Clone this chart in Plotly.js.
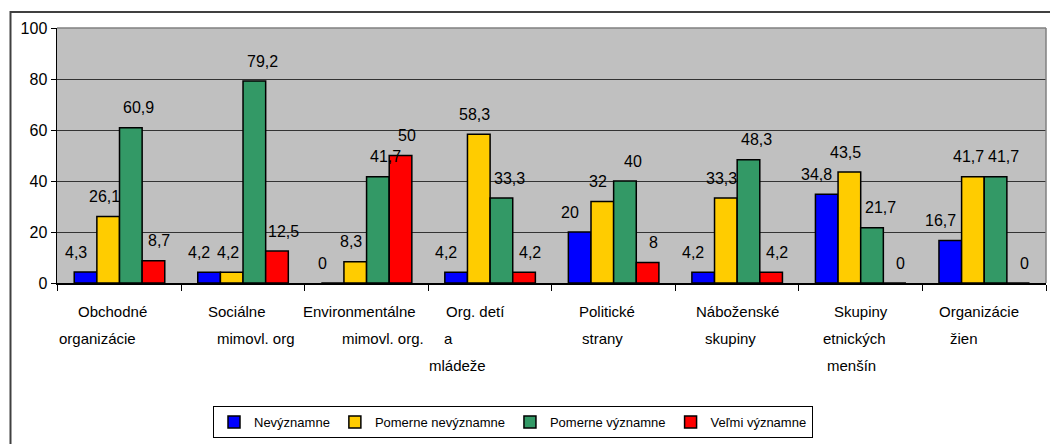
<!DOCTYPE html>
<html><head><meta charset="utf-8">
<script src="https://cdn.plot.ly/plotly-3.0.1.min.js"></script>
<style>html,body{margin:0;padding:0;background:#fff}#chart{width:1050px;height:444px}</style>
</head><body><div id="chart"></div>
<script>
// ---- data ----
const categories = ["Obchodné organizácie", "Sociálne mimovl. org", "Environmentálne mimovl. org.", "Org. detí a mládeže", "Politické strany", "Náboženské skupiny", "Skupiny etnických menšín", "Organizácie žien"];
const tickLines = [["Obchodné","organizácie"], ["Sociálne","mimovl. org"], ["Environmentálne","mimovl. org."], ["Org. detí","a","mládeže"], ["Politické","strany"], ["Náboženské","skupiny"], ["Skupiny","etnických","menšín"], ["Organizácie","žien"]];
const seriesNames = ["Nevýznamne", "Pomerne nevýznamne", "Pomerne významne", "Veľmi významne"];
const nevyznamne        = [4.3, 4.2, 0, 4.2, 20, 4.2, 34.8, 16.7];
const pomerneNevyznamne = [26.1, 4.2, 8.3, 58.3, 32, 33.3, 43.5, 41.7];
const pomerneVyznamne   = [60.9, 79.2, 41.7, 33.3, 40, 48.3, 21.7, 41.7];
const velmiVyznamne     = [8.7, 12.5, 50, 4.2, 8, 4.2, 0, 0];
const yTicks = [0, 20, 40, 60, 80, 100];

// ---- styles ----
const colors = ["#0000FF", "#FFCC00", "#339966", "#FF0000"];
const W = 1050, H = 444;
const M = {l: 57, r: 4, t: 28, b: 161};
const plotW = W - M.l - M.r, plotH = H - M.t - M.b;
const bargap = 0.267;
const font = "Arial, 'Liberation Sans', sans-serif";
const labelDx = [-10, -4, 8, 6];          // per-series label nudge (px)
const labelDy = 20;
const lineDx = [[-7,-22],[-6,13],[-7,16],[-15,-42,-33],[-7,-11],[0,-7],[0,-6,-9],[-5,-20]];
const lineY0 = 28, lineStep = 27;

const seriesValues = [nevyznamne, pomerneNevyznamne, pomerneVyznamne, velmiVyznamne];
const traces = seriesValues.map((vals, s) => ({
  type: "bar",
  name: seriesNames[s],
  x: categories,
  y: vals,
  marker: {color: colors[s], line: {color: "#000", width: 1.5}},
  hoverinfo: "skip"
}));

const catW = plotW / categories.length;
const barW = catW * (1 - bargap) / seriesValues.length;
const fmt = v => String(v).replace(".", ",");

const annotations = [];
seriesValues.forEach((vals, s) => {
  vals.forEach((v, c) => {
    annotations.push({
      x: categories[c], xref: "x", y: v, yref: "y",
      text: fmt(v), showarrow: false,
      xshift: (s - (seriesValues.length - 1) / 2) * barW + labelDx[s],
      yshift: labelDy, yanchor: "middle", xanchor: "center",
      font: {family: font, size: 16, color: "#000"}
    });
  });
});
tickLines.forEach((lines, c) => {
  lines.forEach((t, k) => {
    annotations.push({
      x: categories[c], xref: "x", y: 0, yref: "paper",
      text: t, showarrow: false,
      xshift: lineDx[c][k], yshift: -(lineY0 + k * lineStep),
      yanchor: "middle", xanchor: "center",
      font: {family: font, size: 15, color: "#000"}
    });
  });
});

const px2x = p => (p - M.l) / plotW;
const py2y = p => (H - M.b - p) / plotH;

const layout = {
  width: W, height: H,
  margin: M,
  paper_bgcolor: "#fff",
  plot_bgcolor: "#C0C0C0",
  barmode: "group",
  bargap: bargap,
  bargroupgap: 0,
  showlegend: true,
  font: {family: font, color: "#000"},
  xaxis: {
    type: "category",
    tickson: "boundaries",
    ticks: "outside", ticklen: 6, tickcolor: "#000", tickwidth: 1,
    showticklabels: false,
    showline: true, linecolor: "#000", linewidth: 1.5,
    showgrid: false, zeroline: false,
    fixedrange: true
  },
  yaxis: {
    range: [0, 100],
    tickvals: yTicks,
    ticktext: yTicks.map(String),
    ticks: "outside", ticklen: 5, tickcolor: "#000", tickwidth: 1,
    tickfont: {family: font, size: 16, color: "#000"},
    showline: true, linecolor: "#000", linewidth: 1.5,
    showgrid: true, gridcolor: "#333", gridwidth: 1,
    zeroline: false,
    fixedrange: true
  },
  legend: {
    orientation: "h",
    x: px2x(213), y: py2y(406),
    xanchor: "left", yanchor: "top",
    bgcolor: "#fff", bordercolor: "#000", borderwidth: 1,
    font: {family: font, size: 13, color: "#000"},
    traceorder: "normal"
  },
  annotations: annotations,
  shapes: [
    {type: "line", xref: "paper", yref: "paper", x0: 0, x1: 1, y0: 1, y1: 1, line: {color: "#808080", width: 1.5}, layer: "above"},
    {type: "line", xref: "paper", yref: "paper", x0: 1, x1: 1, y0: 0, y1: 1, line: {color: "#808080", width: 1.5}, layer: "above"},
    {type: "rect", xref: "paper", yref: "paper", x0: px2x(10.5), x1: px2x(1065), y0: py2y(470), y1: py2y(12), line: {color: "#404040", width: 2}, fillcolor: "rgba(0,0,0,0)", layer: "below"}
  ]
};

Plotly.newPlot("chart", traces, layout, {staticPlot: true, displayModeBar: false});
</script>
</body></html>
